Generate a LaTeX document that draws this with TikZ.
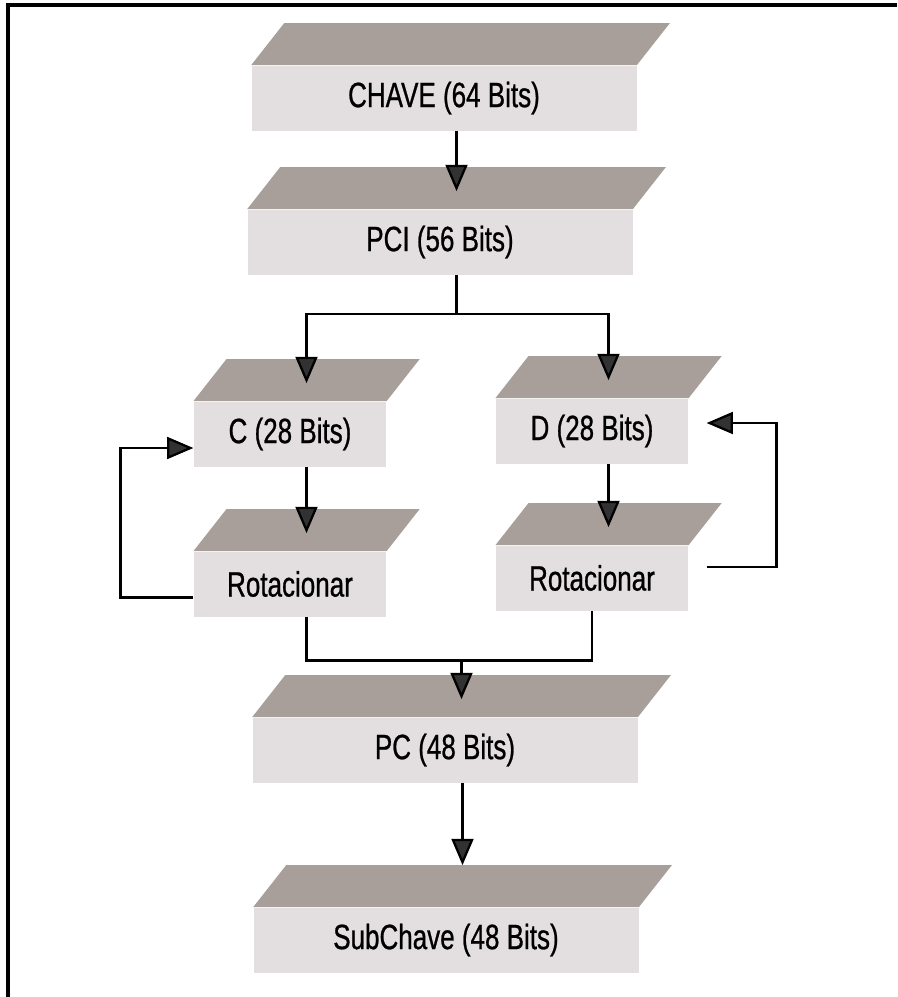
\documentclass[tikz,border=0pt]{standalone}
\usepackage{fontspec}
\setmainfont{Liberation Sans}[FakeStretch=0.74, FakeBold=0.7]
\usetikzlibrary{arrows.meta,calc}

\definecolor{topo}{RGB}{168,159,154}
\definecolor{frente}{RGB}{227,223,225}
\definecolor{ponta}{RGB}{50,50,50}

\tikzset{
  bloco/.style={fill=frente, minimum height=1.3cm, inner sep=0pt,
                font=\fontsize{20}{24}\selectfont},
  largo/.style={bloco, minimum width=7.7cm},
  estreito/.style={bloco, minimum width=3.85cm},
  linha/.style={line width=1.3pt, black},
  seta/.style={linha, -{Triangle[length=15pt,width=12.5pt,fill=ponta]}},
}

% face superior (paralelogramo) de um bloco
\newcommand{\facetopo}[1]{%
  \fill[topo] (#1.north west) -- (#1.north east) -- ++(0.66,0.84)
    -- ($(#1.north west)+(0.66,0.84)$) -- cycle;
  \coordinate (#1-t) at ($(#1.north)+(0.33,0.36)$);
  \coordinate (#1-b) at ($(#1.north)+(0.33,0.84)$);}

\begin{document}
\begin{tikzpicture}
  \useasboundingbox (0,0) rectangle (17.94,-19.94);

  % Moldura
  \draw[line width=1.8pt] (0.16,-19.94) -- (0.16,-0.1) -- (17.94,-0.1);

  % Blocos
  \node[largo]    (chave) at (8.88,-1.96)  {CHAVE (64 Bits)};
  \node[largo]    (pci)   at (8.80,-4.84)  {PCI (56 Bits)};
  \node[estreito] (c)     at (5.80,-8.68)  {C (28 Bits)};
  \node[estreito] (d)     at (11.84,-8.62) {D (28 Bits)};
  \node[estreito] (rotc)  at (5.80,-11.68) {Rotacionar};
  \node[estreito] (rotd)  at (11.84,-11.56){Rotacionar};
  \node[largo]    (pc)    at (8.90,-15.00) {PC (48 Bits)};
  \node[largo]    (sub)   at (8.92,-18.80) {SubChave (48 Bits)};

  % Faces superiores
  \foreach \b in {chave,pci,c,d,rotc,rotd,pc,sub} {\facetopo{\b}}

  % CHAVE -> PCI
  \draw[seta] (pci-t |- chave.south) -- (pci-t);

  % PCI -> C e D
  \draw[linha] (pci-t |- pci.south) -- ++(0,-0.78) coordinate (divide);
  \draw[seta] (divide) -| (c-t);
  \draw[seta] (divide) -| (d-t);

  % C, D -> Rotacionar
  \draw[seta] (c-t |- c.south) -- (rotc-t);
  \draw[seta] (d-t |- d.south) -- (rotd-t);

  % Realimentacao
  \draw[seta] ([yshift=-0.27cm]rotc.west) -- ++(-1.46,0)
        |- ([yshift=-0.28cm]c.west);
  \draw[seta] ([xshift=0.36cm,yshift=0.22cm]rotd.east) -- ++(1.4,0)
        |- ([xshift=0.36cm,yshift=0.16cm]d.east);

  % Rotacionar -> PC
  \draw[linha] (rotc-t |- rotc.south) -- ++(0,-0.87) coordinate (junta)
        -| (rotd.south);
  \draw[seta] (pc-t |- junta) -- (pc-t);

  % PC -> SubChave
  \draw[seta] (sub-b |- pc.south) -- (sub-b);
\end{tikzpicture}
\end{document}
